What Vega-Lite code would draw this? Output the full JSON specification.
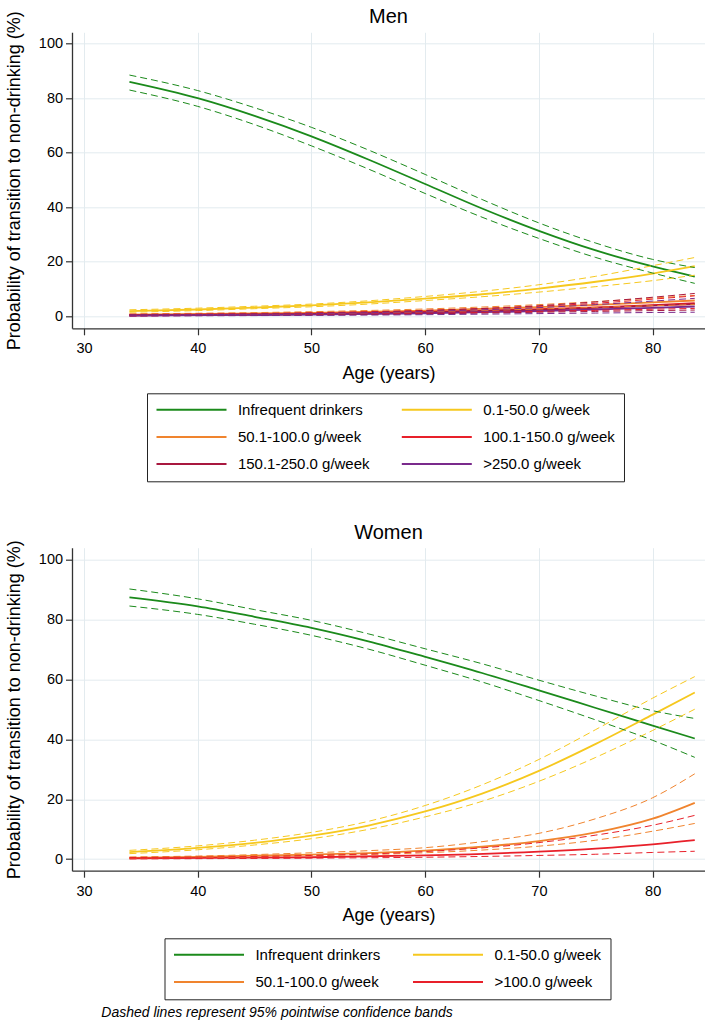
{
  "$schema": "https://vega.github.io/schema/vega-lite/v6.json",
  "padding": {"left": 5, "top": 6.3, "right": 0, "bottom": 0},
  "config": {
    "font": "Liberation Sans",
    "view": {"stroke": null},
    "axis": {
      "domainColor": "#333333", "domainWidth": 1.3,
      "tickColor": "#333333", "tickSize": 6.5, "tickWidth": 1.2,
      "labelFontSize": 14.5, "labelColor": "#000000",
      "titleFontSize": 18, "titleFontWeight": "normal", "titleColor": "#000000",
      "gridColor": "#E3EBEF", "gridWidth": 1
    },
    "axisX": {"titlePadding": 9, "labelPadding": 7},
    "axisY": {"titlePadding": 15, "labelPadding": 3},
    "title": {"fontWeight": "normal", "color": "#000000"}
  },
  "title": {
    "text": "Dashed lines represent 95% pointwise confidence bands",
    "orient": "bottom", "anchor": "start", "fontStyle": "italic",
    "fontWeight": "normal", "fontSize": 14, "dx": 96, "offset": 6
  },
  "datasets": {
    "men": [
      {"group": "Infrequent drinkers", "age": 34, "est": 86, "lo": 83, "hi": 88.5},
      {"group": "Infrequent drinkers", "age": 40, "est": 80, "lo": 77, "hi": 82.8},
      {"group": "Infrequent drinkers", "age": 45, "est": 73.5, "lo": 70.3, "hi": 76.5},
      {"group": "Infrequent drinkers", "age": 50, "est": 66, "lo": 62.5, "hi": 69.3},
      {"group": "Infrequent drinkers", "age": 55, "est": 57.5, "lo": 54, "hi": 61},
      {"group": "Infrequent drinkers", "age": 60, "est": 48.5, "lo": 45, "hi": 52},
      {"group": "Infrequent drinkers", "age": 65, "est": 39.5, "lo": 36.3, "hi": 42.8},
      {"group": "Infrequent drinkers", "age": 70, "est": 31.3, "lo": 28.5, "hi": 34.2},
      {"group": "Infrequent drinkers", "age": 75, "est": 24.1, "lo": 21.5, "hi": 26.8},
      {"group": "Infrequent drinkers", "age": 80, "est": 18.2, "lo": 15.8, "hi": 20.8},
      {"group": "Infrequent drinkers", "age": 83.7, "est": 14.5, "lo": 12, "hi": 17.8},

      {"group": "0.1-50.0 g/week", "age": 34, "est": 1.8, "lo": 1.4, "hi": 2.3},
      {"group": "0.1-50.0 g/week", "age": 40, "est": 2.4, "lo": 2, "hi": 2.9},
      {"group": "0.1-50.0 g/week", "age": 45, "est": 3.1, "lo": 2.7, "hi": 3.6},
      {"group": "0.1-50.0 g/week", "age": 50, "est": 3.9, "lo": 3.4, "hi": 4.4},
      {"group": "0.1-50.0 g/week", "age": 55, "est": 5, "lo": 4.4, "hi": 5.6},
      {"group": "0.1-50.0 g/week", "age": 60, "est": 6.4, "lo": 5.7, "hi": 7.2},
      {"group": "0.1-50.0 g/week", "age": 65, "est": 8, "lo": 7.1, "hi": 9.1},
      {"group": "0.1-50.0 g/week", "age": 70, "est": 10.1, "lo": 8.8, "hi": 11.5},
      {"group": "0.1-50.0 g/week", "age": 75, "est": 12.6, "lo": 10.8, "hi": 14.6},
      {"group": "0.1-50.0 g/week", "age": 80, "est": 15.6, "lo": 13, "hi": 18.5},
      {"group": "0.1-50.0 g/week", "age": 83.7, "est": 18.3, "lo": 15, "hi": 21.5},

      {"group": "50.1-100.0 g/week", "age": 34, "est": 0.5, "lo": 0.3, "hi": 0.8},
      {"group": "50.1-100.0 g/week", "age": 50, "est": 1.2, "lo": 0.9, "hi": 1.6},
      {"group": "50.1-100.0 g/week", "age": 60, "est": 2, "lo": 1.6, "hi": 2.6},
      {"group": "50.1-100.0 g/week", "age": 70, "est": 3.3, "lo": 2.6, "hi": 4.2},
      {"group": "50.1-100.0 g/week", "age": 75, "est": 4.1, "lo": 3.2, "hi": 5.3},
      {"group": "50.1-100.0 g/week", "age": 80, "est": 5, "lo": 3.8, "hi": 6.6},
      {"group": "50.1-100.0 g/week", "age": 83.7, "est": 5.7, "lo": 4.2, "hi": 7.6},

      {"group": "100.1-150.0 g/week", "age": 34, "est": 0.3, "lo": 0.1, "hi": 0.6},
      {"group": "100.1-150.0 g/week", "age": 50, "est": 0.8, "lo": 0.5, "hi": 1.2},
      {"group": "100.1-150.0 g/week", "age": 60, "est": 1.5, "lo": 1, "hi": 2.1},
      {"group": "100.1-150.0 g/week", "age": 70, "est": 2.5, "lo": 1.7, "hi": 3.6},
      {"group": "100.1-150.0 g/week", "age": 75, "est": 3.2, "lo": 2.1, "hi": 4.7},
      {"group": "100.1-150.0 g/week", "age": 80, "est": 4, "lo": 2.5, "hi": 6.2},
      {"group": "100.1-150.0 g/week", "age": 83.7, "est": 4.7, "lo": 2.8, "hi": 7.4},

      {"group": "150.1-250.0 g/week", "age": 34, "est": 0.25, "lo": 0.1, "hi": 0.5},
      {"group": "150.1-250.0 g/week", "age": 50, "est": 0.7, "lo": 0.4, "hi": 1.1},
      {"group": "150.1-250.0 g/week", "age": 60, "est": 1.3, "lo": 0.8, "hi": 2},
      {"group": "150.1-250.0 g/week", "age": 70, "est": 2.3, "lo": 1.4, "hi": 3.8},
      {"group": "150.1-250.0 g/week", "age": 75, "est": 3, "lo": 1.7, "hi": 5.2},
      {"group": "150.1-250.0 g/week", "age": 80, "est": 3.8, "lo": 2, "hi": 6.9},
      {"group": "150.1-250.0 g/week", "age": 83.7, "est": 4.4, "lo": 2.2, "hi": 8.3},

      {"group": ">250.0 g/week", "age": 34, "est": 0.15, "lo": 0.05, "hi": 0.4},
      {"group": ">250.0 g/week", "age": 50, "est": 0.5, "lo": 0.25, "hi": 0.9},
      {"group": ">250.0 g/week", "age": 60, "est": 1, "lo": 0.5, "hi": 1.7},
      {"group": ">250.0 g/week", "age": 70, "est": 1.8, "lo": 0.9, "hi": 3.1},
      {"group": ">250.0 g/week", "age": 75, "est": 2.4, "lo": 1.1, "hi": 4.2},
      {"group": ">250.0 g/week", "age": 80, "est": 3, "lo": 1.3, "hi": 5.5},
      {"group": ">250.0 g/week", "age": 83.7, "est": 3.5, "lo": 1.4, "hi": 6.5}
    ],
    "women": [
      {"group": "Infrequent drinkers", "age": 34, "est": 87.5, "lo": 84.6, "hi": 90.3},
      {"group": "Infrequent drinkers", "age": 40, "est": 84.5, "lo": 81.8, "hi": 87},
      {"group": "Infrequent drinkers", "age": 45, "est": 81, "lo": 78.5, "hi": 83.4},
      {"group": "Infrequent drinkers", "age": 50, "est": 77.3, "lo": 74.8, "hi": 79.8},
      {"group": "Infrequent drinkers", "age": 55, "est": 72.8, "lo": 70.2, "hi": 75.3},
      {"group": "Infrequent drinkers", "age": 60, "est": 67.6, "lo": 64.8, "hi": 70.3},
      {"group": "Infrequent drinkers", "age": 65, "est": 62.2, "lo": 59.2, "hi": 65.3},
      {"group": "Infrequent drinkers", "age": 70, "est": 56.4, "lo": 53, "hi": 59.8},
      {"group": "Infrequent drinkers", "age": 75, "est": 50.5, "lo": 46.5, "hi": 54.5},
      {"group": "Infrequent drinkers", "age": 80, "est": 44.6, "lo": 39.7, "hi": 49.6},
      {"group": "Infrequent drinkers", "age": 83.7, "est": 40.3, "lo": 34, "hi": 47},

      {"group": "0.1-50.0 g/week", "age": 34, "est": 2.3, "lo": 1.8, "hi": 2.9},
      {"group": "0.1-50.0 g/week", "age": 40, "est": 3.7, "lo": 3.1, "hi": 4.4},
      {"group": "0.1-50.0 g/week", "age": 45, "est": 5.4, "lo": 4.7, "hi": 6.3},
      {"group": "0.1-50.0 g/week", "age": 50, "est": 7.8, "lo": 6.8, "hi": 8.9},
      {"group": "0.1-50.0 g/week", "age": 55, "est": 11.2, "lo": 9.9, "hi": 12.6},
      {"group": "0.1-50.0 g/week", "age": 60, "est": 15.9, "lo": 14.1, "hi": 17.9},
      {"group": "0.1-50.0 g/week", "age": 65, "est": 21.9, "lo": 19.3, "hi": 24.8},
      {"group": "0.1-50.0 g/week", "age": 70, "est": 29.5, "lo": 26, "hi": 33.3},
      {"group": "0.1-50.0 g/week", "age": 75, "est": 38.5, "lo": 34, "hi": 43.3},
      {"group": "0.1-50.0 g/week", "age": 80, "est": 48.3, "lo": 43, "hi": 53.8},
      {"group": "0.1-50.0 g/week", "age": 83.7, "est": 55.7, "lo": 50.1, "hi": 61},

      {"group": "50.1-100.0 g/week", "age": 34, "est": 0.4, "lo": 0.25, "hi": 0.7},
      {"group": "50.1-100.0 g/week", "age": 40, "est": 0.7, "lo": 0.45, "hi": 1},
      {"group": "50.1-100.0 g/week", "age": 50, "est": 1.5, "lo": 1.1, "hi": 2.1},
      {"group": "50.1-100.0 g/week", "age": 55, "est": 2, "lo": 1.5, "hi": 2.8},
      {"group": "50.1-100.0 g/week", "age": 60, "est": 2.8, "lo": 2.1, "hi": 3.8},
      {"group": "50.1-100.0 g/week", "age": 65, "est": 4.1, "lo": 3, "hi": 5.8},
      {"group": "50.1-100.0 g/week", "age": 70, "est": 6, "lo": 4.3, "hi": 8.6},
      {"group": "50.1-100.0 g/week", "age": 75, "est": 8.9, "lo": 6.3, "hi": 13.5},
      {"group": "50.1-100.0 g/week", "age": 80, "est": 13.5, "lo": 9.3, "hi": 20.5},
      {"group": "50.1-100.0 g/week", "age": 83.7, "est": 18.8, "lo": 11.9, "hi": 28.5},

      {"group": ">100.0 g/week", "age": 34, "est": 0.2, "lo": 0.05, "hi": 0.5},
      {"group": ">100.0 g/week", "age": 50, "est": 0.6, "lo": 0.3, "hi": 1.2},
      {"group": ">100.0 g/week", "age": 60, "est": 1.2, "lo": 0.6, "hi": 2.5},
      {"group": ">100.0 g/week", "age": 70, "est": 2.5, "lo": 1.2, "hi": 5.5},
      {"group": ">100.0 g/week", "age": 75, "est": 3.5, "lo": 1.6, "hi": 8},
      {"group": ">100.0 g/week", "age": 80, "est": 4.9, "lo": 2.2, "hi": 11.3},
      {"group": ">100.0 g/week", "age": 83.7, "est": 6.3, "lo": 2.6, "hi": 14.6}
    ]
  },
  "spacing": 39.4,
  "resolve": {"scale": {"color": "independent"}, "legend": {"color": "independent"}},
  "vconcat": [
    {
      "title": {"text": "Men", "fontSize": 20, "offset": -16.5, "frame": "group"},
      "width": 633, "height": 296,
      "data": {"name": "men"},
      "transform": [{"fold": ["est", "lo", "hi"], "as": ["type", "p"]}],
      "encoding": {
        "x": {"field": "age", "type": "quantitative",
              "scale": {"domain": [28.95, 84.6], "nice": false, "zero": false},
              "axis": {"values": [30, 40, 50, 60, 70, 80], "title": "Age (years)"}},
        "y": {"field": "p", "type": "quantitative",
              "scale": {"domain": [-4.5, 104.2], "nice": false, "zero": false},
              "axis": {"values": [0, 20, 40, 60, 80, 100], "title": "Probability of transition to non-drinking (%)"}},
        "color": {"field": "group", "type": "nominal",
          "scale": {"domain": ["Infrequent drinkers", "0.1-50.0 g/week", "50.1-100.0 g/week", "100.1-150.0 g/week", "150.1-250.0 g/week", ">250.0 g/week"],
                    "range": ["#1B8A1B", "#F6C81E", "#F0842E", "#E8202A", "#A8183F", "#7A2A8C"]},
          "legend": {"title": null, "orient": "none", "legendX": 75, "legendY": 361, "columns": 2, "direction": "horizontal",
                     "symbolType": "M-1,0H9", "symbolSize": 196, "symbolStrokeWidth": 2,
                     "labelFontSize": 15, "labelColor": "#000000", "labelOffset": 66.4, "labelLimit": 400,
                     "columnPadding": 27.3, "rowPadding": 11.1, "padding": 8.5, "strokeColor": "#222222"}}
      },
      "layer": [
        {"transform": [{"filter": "datum.type === 'est'"}],
         "mark": {"type": "line", "strokeWidth": 1.8, "interpolate": "monotone"}},
        {"transform": [{"filter": "datum.type !== 'est'"}],
         "mark": {"type": "line", "strokeWidth": 1, "strokeDash": [7, 4], "interpolate": "monotone"},
         "encoding": {"detail": {"field": "type"}}}
      ]
    },
    {
      "title": {"text": "Women", "fontSize": 20, "offset": -3, "frame": "group"},
      "width": 633, "height": 323,
      "data": {"name": "women"},
      "transform": [{"fold": ["est", "lo", "hi"], "as": ["type", "p"]}],
      "encoding": {
        "x": {"field": "age", "type": "quantitative",
              "scale": {"domain": [28.95, 84.6], "nice": false, "zero": false},
              "axis": {"values": [30, 40, 50, 60, 70, 80], "title": "Age (years)"}},
        "y": {"field": "p", "type": "quantitative",
              "scale": {"domain": [-3.9, 104.1], "nice": false, "zero": false},
              "axis": {"values": [0, 20, 40, 60, 80, 100], "title": "Probability of transition to non-drinking (%)"}},
        "color": {"field": "group", "type": "nominal",
          "scale": {"domain": ["Infrequent drinkers", "0.1-50.0 g/week", "50.1-100.0 g/week", ">100.0 g/week"],
                    "range": ["#1B8A1B", "#F6C81E", "#F0842E", "#E8202A"]},
          "legend": {"title": null, "orient": "none", "legendX": 92.5, "legendY": 390.6, "columns": 2, "direction": "horizontal",
                     "symbolType": "M-1,0H9", "symbolSize": 196, "symbolStrokeWidth": 2,
                     "labelFontSize": 15, "labelColor": "#000000", "labelOffset": 66.4, "labelLimit": 400,
                     "columnPadding": 28, "rowPadding": 11.1, "padding": 8.5, "strokeColor": "#222222"}}
      },
      "layer": [
        {"transform": [{"filter": "datum.type === 'est'"}],
         "mark": {"type": "line", "strokeWidth": 1.8, "interpolate": "monotone"}},
        {"transform": [{"filter": "datum.type !== 'est'"}],
         "mark": {"type": "line", "strokeWidth": 1, "strokeDash": [7, 4], "interpolate": "monotone"},
         "encoding": {"detail": {"field": "type"}}}
      ]
    }
  ]
}
